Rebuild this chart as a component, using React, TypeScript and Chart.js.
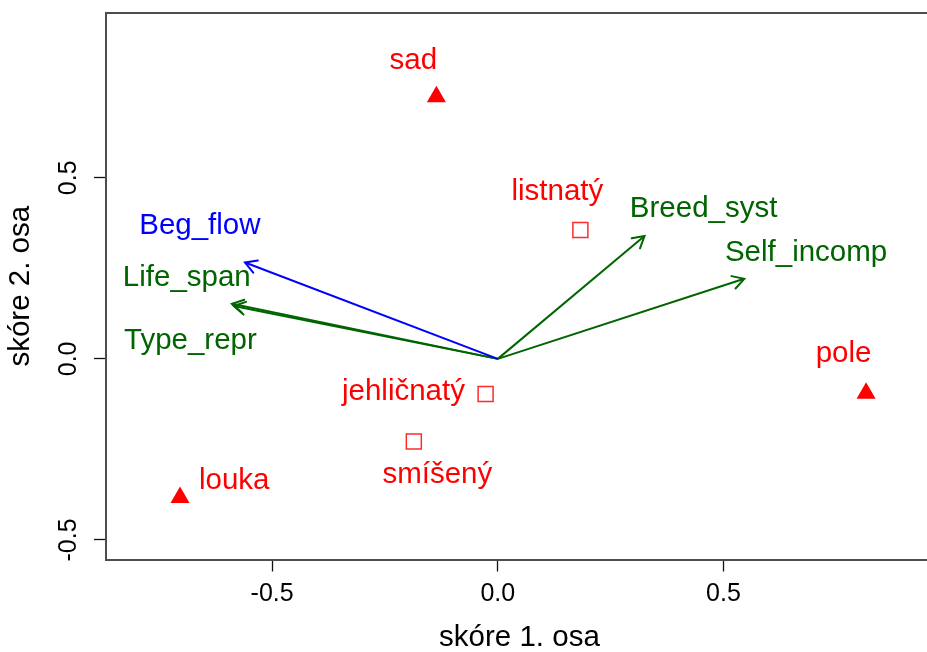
import React, { useEffect, useRef } from "react";
import { Chart, registerables } from "chart.js";

Chart.register(...registerables);

const FONT = "'Liberation Sans', Arial, Helvetica, sans-serif";

// axis settings
const axisTicks = [-0.5, 0, 0.5];
const xRange = [-0.868, 0.964];
const yRange = [-0.554, 0.955];
const xTitle = "skóre 1. osa";
const yTitle = "skóre 2. osa";

// sites (filled triangles)
const siteNames = ["sad", "pole", "louka"];
const siteX = [-0.136, 0.816, -0.704];
const siteY = [0.724, -0.095, -0.383];
const siteLabelX = [-0.187, 0.766, -0.584];
const siteLabelY = [0.822, 0.014, -0.336];

// forest types (open squares)
const forestNames = ["listnatý", "jehličnatý", "smíšený"];
const forestX = [0.183, -0.027, -0.186];
const forestY = [0.356, -0.097, -0.228];
const forestLabelX = [0.132, -0.209, -0.134];
const forestLabelY = [0.46, -0.092, -0.32];

// trait vectors (arrows)
const traitNames = ["Beg_flow", "Life_span", "Type_repr", "Breed_syst", "Self_incomp"];
const traitX = [-0.56, -0.589, -0.585, 0.325, 0.546];
const traitY = [0.266, 0.152, 0.146, 0.339, 0.221];
const traitLabelX = [-0.66, -0.689, -0.681, 0.456, 0.683];
const traitLabelY = [0.368, 0.224, 0.049, 0.414, 0.294];

const RED = "#FF0000";
const GREEN = "#006400";
const BLUE = "#0000FF";
const traitColors = [BLUE, GREEN, GREEN, GREEN, GREEN];
const LABEL_SIZE = 29.5;

const overlayPlugin = {
  id: "overlay",
  afterDatasetsDraw(chart: any) {
    const { ctx, scales } = chart;
    const x = scales.x;
    const y = scales.y;
    ctx.save();
    // arrow heads
    const x0 = x.getPixelForValue(0);
    const y0 = y.getPixelForValue(0);
    traitNames.forEach((_, i) => {
      const x1 = x.getPixelForValue(traitX[i]);
      const y1 = y.getPixelForValue(traitY[i]);
      const ang = Math.atan2(y1 - y0, x1 - x0);
      const L = 13;
      const a = Math.PI / 6;
      ctx.strokeStyle = traitColors[i];
      ctx.lineWidth = 2;
      ctx.lineCap = "round";
      ctx.beginPath();
      ctx.moveTo(x1 - L * Math.cos(ang - a), y1 - L * Math.sin(ang - a));
      ctx.lineTo(x1, y1);
      ctx.lineTo(x1 - L * Math.cos(ang + a), y1 - L * Math.sin(ang + a));
      ctx.stroke();
    });
    // labels
    ctx.font = `${LABEL_SIZE}px ${FONT}`;
    ctx.textAlign = "center";
    ctx.textBaseline = "middle";
    ctx.fillStyle = RED;
    siteNames.forEach((n, i) => {
      ctx.fillText(n, x.getPixelForValue(siteLabelX[i]), y.getPixelForValue(siteLabelY[i]));
    });
    forestNames.forEach((n, i) => {
      ctx.fillText(n, x.getPixelForValue(forestLabelX[i]), y.getPixelForValue(forestLabelY[i]));
    });
    traitNames.forEach((n, i) => {
      ctx.fillStyle = traitColors[i];
      ctx.fillText(n, x.getPixelForValue(traitLabelX[i]), y.getPixelForValue(traitLabelY[i]));
    });
    ctx.restore();
  },
  afterDraw(chart: any) {
    const { ctx, scales, chartArea } = chart;
    const y = scales.y;
    ctx.save();
    // top frame line
    ctx.strokeStyle = "#4d4d4d";
    ctx.lineWidth = 2;
    ctx.beginPath();
    ctx.moveTo(chartArea.left - 1, chartArea.top);
    ctx.lineTo(chartArea.right, chartArea.top);
    ctx.stroke();
    // rotated y tick labels (R style)
    ctx.font = `25px ${FONT}`;
    ctx.fillStyle = "#000";
    ctx.textAlign = "center";
    ctx.textBaseline = "middle";
    y.ticks.forEach((t: any) => {
      const py = y.getPixelForValue(t.value);
      ctx.save();
      ctx.translate(chartArea.left - 37, py);
      ctx.rotate(-Math.PI / 2);
      ctx.fillText(Number(t.value).toFixed(1), 0, 0);
      ctx.restore();
    });
    ctx.restore();
  },
};

export default function App() {
  const ref = useRef<HTMLCanvasElement>(null);
  useEffect(() => {
    const canvas = ref.current;
    if (!canvas) return;
    const arrowSets = traitNames.map((n, i) => ({
      label: n,
      data: [
        { x: 0, y: 0 },
        { x: traitX[i], y: traitY[i] },
      ],
      showLine: true,
      borderColor: traitColors[i],
      backgroundColor: traitColors[i],
      borderWidth: 2,
      pointRadius: 0,
      fill: false,
    }));
    const triangles = {
      label: "sites",
      data: siteX.map((v, i) => ({ x: v, y: siteY[i] })),
      pointStyle: "triangle",
      pointRadius: 11,
      backgroundColor: RED,
      borderColor: RED,
      borderWidth: 0,
      showLine: false,
    };
    const squares = {
      label: "forest",
      data: forestX.map((v, i) => ({ x: v, y: forestY[i] })),
      pointStyle: "rect",
      pointRadius: 10.6,
      backgroundColor: "rgba(255,255,255,0)",
      borderColor: "#FF2a2a",
      borderWidth: 1.5,
      showLine: false,
    };
    const setTicks = (scale: any) => {
      scale.ticks = axisTicks.map((v) => ({ value: v }));
    };
    const chart = new Chart(canvas, {
      type: "scatter",
      data: { datasets: [...arrowSets, triangles, squares] as any },
      options: {
        animation: false,
        responsive: false,
        devicePixelRatio: 1,
        layout: { padding: { left: 0, top: 13, right: 11, bottom: 0 } },
        plugins: {
          legend: { display: false },
          tooltip: { enabled: false },
        },
        scales: {
          x: {
            type: "linear",
            min: xRange[0],
            max: xRange[1],
            afterBuildTicks: setTicks,
            grid: {
              display: true,
              drawOnChartArea: false,
              drawTicks: true,
              tickLength: 12,
              tickColor: "#111",
              tickWidth: 1.3,
            },
            border: { display: true, color: "#4d4d4d", width: 2 },
            ticks: {
              font: { family: FONT, size: 25, lineHeight: 1.2 },
              color: "#000",
              padding: 8,
              maxRotation: 0,
              minRotation: 0,
              callback: (v: any) => Number(v).toFixed(1),
            },
            title: {
              display: true,
              text: xTitle,
              color: "#000",
              font: { family: FONT, size: LABEL_SIZE, lineHeight: 1 },
              padding: { top: 6, bottom: -1 },
            },
          },
          y: {
            type: "linear",
            min: yRange[0],
            max: yRange[1],
            afterBuildTicks: setTicks,
            grid: {
              display: true,
              drawOnChartArea: false,
              drawTicks: true,
              tickLength: 12,
              tickColor: "#111",
              tickWidth: 1.3,
            },
            border: { display: true, color: "#4d4d4d", width: 2 },
            ticks: { display: false },
            title: {
              display: true,
              text: yTitle,
              color: "#000",
              font: { family: FONT, size: LABEL_SIZE, lineHeight: 1 },
              padding: { top: 6, bottom: 58.5 },
            },
          },
        },
      } as any,
      plugins: [overlayPlugin],
    });
    return () => chart.destroy();
  }, []);
  return (
    <div
      style={{
        position: "fixed",
        left: 0,
        top: 0,
        width: 927,
        height: 652,
        overflow: "hidden",
        background: "#fff",
      }}
    >
      <canvas ref={ref} width={945} height={652} style={{ display: "block" }} />
    </div>
  );
}
